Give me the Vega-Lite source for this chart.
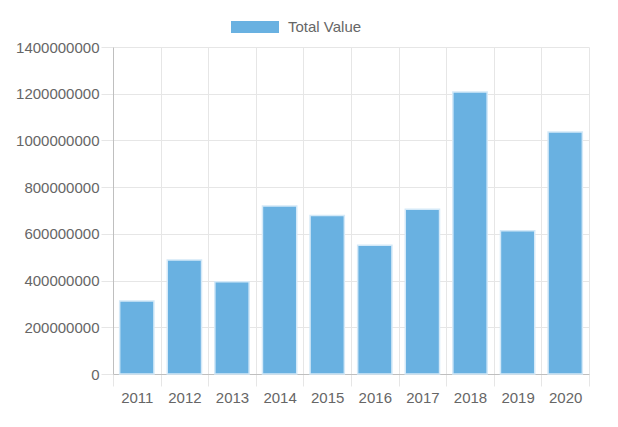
{
  "$schema": "https://vega.github.io/schema/vega-lite/v6.json",
  "width": 476,
  "height": 327,
  "autosize": {"type": "none"},
  "padding": {"left": 113, "top": 47, "right": 29, "bottom": 53},
  "background": "white",
  "config": {"view": {"stroke": null}, "font": "Liberation Sans"},
  "data": {
    "values": [
      {"year": "2011", "value": 313000000, "series": "Total Value"},
      {"year": "2012", "value": 488000000, "series": "Total Value"},
      {"year": "2013", "value": 395000000, "series": "Total Value"},
      {"year": "2014", "value": 719000000, "series": "Total Value"},
      {"year": "2015", "value": 679000000, "series": "Total Value"},
      {"year": "2016", "value": 551000000, "series": "Total Value"},
      {"year": "2017", "value": 705000000, "series": "Total Value"},
      {"year": "2018", "value": 1207000000, "series": "Total Value"},
      {"year": "2019", "value": 613000000, "series": "Total Value"},
      {"year": "2020", "value": 1036000000, "series": "Total Value"}
    ]
  },
  "mark": {"type": "bar", "width": {"band": 0.72}, "stroke": "#d4e9f8", "strokeWidth": 1.5},
  "encoding": {
    "x": {
      "field": "year",
      "type": "ordinal",
      "scale": {"paddingInner": 0, "paddingOuter": 0},
      "axis": {
        "title": null,
        "labelAngle": 0,
        "tickBand": "extent",
        "grid": true,
        "gridColor": "#e6e6e6",
        "domainColor": "#bfbfbf",
        "tickColor": "#e6e6e6",
        "tickSize": 12,
        "labelFontSize": 15,
        "labelColor": "#666666",
        "labelPadding": 4
      }
    },
    "y": {
      "field": "value",
      "type": "quantitative",
      "scale": {"domain": [0, 1400000000], "nice": false},
      "axis": {
        "title": null,
        "values": [0, 200000000, 400000000, 600000000, 800000000, 1000000000, 1200000000, 1400000000],
        "format": "d",
        "grid": true,
        "gridColor": "#e6e6e6",
        "domainColor": "#bfbfbf",
        "tickColor": "#e6e6e6",
        "tickSize": 12,
        "labelFontSize": 15,
        "labelColor": "#666666",
        "labelPadding": 2
      }
    },
    "color": {
      "field": "series",
      "type": "nominal",
      "scale": {"range": ["#69b1e1"]},
      "legend": {
        "title": null,
        "orient": "none",
        "legendX": 118,
        "legendY": -44,
        "symbolType": "M-1,-0.25H1V0.25H-1Z",
        "symbolSize": 2304,
        "symbolStrokeWidth": 0,
        "symbolOpacity": 1,
        "labelFontSize": 15,
        "labelColor": "#666666",
        "labelOffset": 9
      }
    }
  }
}
